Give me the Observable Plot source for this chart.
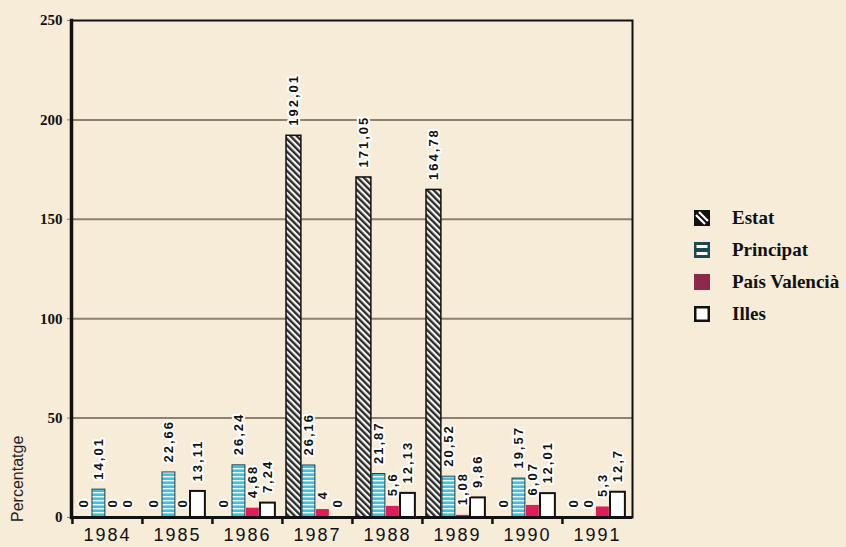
<!DOCTYPE html>
<html>
<head>
<meta charset="utf-8">
<script src="https://cdn.jsdelivr.net/npm/d3@7"></script>
<script src="https://cdn.jsdelivr.net/npm/@observablehq/plot@0.6"></script>
<style>
  html, body { margin: 0; padding: 0; background: #f6ecd8; overflow: hidden; }
  #wrap { position: relative; width: 846px; height: 547px; overflow: hidden; }
  #chart { position: absolute; left: 0; top: 0; }
  #ylabel { position: absolute; left: 10px; top: 522px; transform: rotate(-90deg); transform-origin: 0 0;
            font-family: "Liberation Sans", sans-serif; font-size: 16px; line-height: 16px; color: #222; white-space: nowrap; }
  #legend { position: absolute; left: 694px; top: 202px; font-family: "Liberation Serif", serif; font-weight: bold;
            font-size: 19px; color: #111; white-space: nowrap; }
  .row { height: 32px; display: flex; align-items: center; }
  .row svg { width: 16px; height: 16px; margin-right: 22px; flex: none; }
</style>
</head>
<body>
<div id="wrap">
  <div id="chart"></div>
  <div id="ylabel">Percentatge</div>
  <div id="legend"></div>
</div>
<script>
// ---- data ----
const years = ["1984", "1985", "1986", "1987", "1988", "1989", "1990", "1991"];
const series = ["Estat", "Principat", "País Valencià", "Illes"];
const estat        = [0, 0, 0, 192.01, 171.05, 164.78, 0, 0];
const principat    = [14.01, 22.66, 26.24, 26.16, 21.87, 20.52, 19.57, 0];
const paisValencia = [0, 0, 4.68, 4, 5.6, 1.08, 6.07, 5.3];
const illes        = [0, 13.11, 7.24, 0, 12.13, 9.86, 12.01, 12.7];
const yTicks = [0, 50, 100, 150, 200, 250];
const gridTicks = [50, 100, 150, 200];

const valuesBySeries = [estat, principat, paisValencia, illes];
const rows = years.flatMap((year, i) =>
  series.map((s, j) => ({year, series: s, value: valuesBySeries[j][i]})));

// ---- layout / style ----
const W = 846, H = 547, mL = 71, mR = 214, mT = 20, mB = 30;
const bw = (W - mL - mR) / years.length;
const styles = {
  "Estat":         {fill: "url(#hatchEstat)", stroke: "#111", strokeWidth: 1.5, l: 4,  r: 19},
  "Principat":     {fill: "url(#stripePrincipat)", stroke: "#1a3f4a", strokeWidth: 1, l: 20, r: 33},
  "País Valencià": {fill: "#dc1f5a", stroke: "none", strokeWidth: 0, l: 34, r: 47},
  "Illes":         {fill: "white", stroke: "#111", strokeWidth: 2, l: 48, r: 63}
};
const fmt = v => String(v).replace(".", ",");

const marks = [
  Plot.gridY(gridTicks, {stroke: "#8d8271", strokeOpacity: 1, strokeWidth: 2}),
  Plot.axisY({ticks: yTicks, tickSize: 4, tickPadding: 5, stroke: "#8d8271", label: null,
              fontFamily: "Liberation Serif", fontWeight: "bold", fontSize: 15, fill: "#111"}),
  Plot.axisX({tickSize: 0, tickPadding: 11, label: null, fontFamily: "Liberation Sans",
              fontSize: 18, fill: "#111"}),
  Plot.axisX({tickSize: 7, tickFormat: () => "", label: null, dx: -bw / 2, stroke: "#111", strokeWidth: 2.5})
];
for (const s of series) {
  const st = styles[s];
  const data = rows.filter(d => d.series === s);
  marks.push(Plot.barY(data, {x: "year", y: "value", fill: st.fill, stroke: st.stroke, strokeWidth: st.strokeWidth,
                              insetLeft: st.l, insetRight: bw - st.r}));
}
for (const s of series) {
  const st = styles[s];
  const data = rows.filter(d => d.series === s);
  marks.push(Plot.text(data, {x: "year", y: "value", text: d => fmt(d.value), rotate: -90, textAnchor: "start",
                              dx: (st.l + st.r) / 2 - bw / 2, dy: -10, fontFamily: "Liberation Sans",
                              fontWeight: "bold", fontSize: 13, fill: "#111",
                              stroke: "white", strokeWidth: 4, paintOrder: "stroke"}));
}
marks.push(
  Plot.frame({stroke: "#111", strokeWidth: 2}),
  Plot.frame({anchor: "left", stroke: "#111", strokeWidth: 3.5}),
  Plot.ruleY([0], {stroke: "#111", strokeWidth: 3})
);

const svg = Plot.plot({
  width: W, height: H,
  marginLeft: mL, marginRight: mR, marginTop: mT, marginBottom: mB,
  style: {background: "transparent", overflow: "visible"},
  x: {type: "band", domain: years, padding: 0},
  y: {domain: [0, 250]},
  marks
});

const defs = d3.select(svg).insert("defs", ":first-child");
const pe = defs.append("pattern").attr("id", "hatchEstat").attr("patternUnits", "userSpaceOnUse")
  .attr("width", 4.5).attr("height", 10).attr("patternTransform", "rotate(-45)");
pe.append("rect").attr("width", 4.5).attr("height", 10).attr("fill", "#f4f4f0");
pe.append("rect").attr("width", 2.3).attr("height", 10).attr("fill", "#2a2a2a");
const pp = defs.append("pattern").attr("id", "stripePrincipat").attr("patternUnits", "userSpaceOnUse")
  .attr("width", 4).attr("height", 4);
pp.append("rect").attr("width", 4).attr("height", 4).attr("fill", "#3dc2e2");
pp.append("rect").attr("width", 4).attr("height", 1.4).attr("fill", "#f0fbff");

d3.select(svg).selectAll('g[aria-label="text"] text').attr("letter-spacing", 2);
d3.select(svg).selectAll('g[aria-label="x-axis tick label"] text').attr("letter-spacing", 2);

document.getElementById("chart").appendChild(svg);

// ---- legend ----
const swatches = {
  "Estat": '<rect width="16" height="16" fill="#111"/><path d="M2,5 L11,14 M5,2 L14,11" stroke="white" stroke-width="2.2"/>',
  "Principat": '<rect width="16" height="16" fill="#1c4853"/><rect x="2.5" y="3" width="11" height="3" fill="white"/><rect x="2.5" y="10" width="11" height="3" fill="white"/>',
  "País Valencià": '<rect width="16" height="16" fill="#8b2a4b"/>',
  "Illes": '<rect x="1.25" y="1.25" width="13.5" height="13.5" fill="white" stroke="#111" stroke-width="2.5"/>'
};
const legend = document.getElementById("legend");
for (const s of series) {
  const row = document.createElement("div");
  row.className = "row";
  row.innerHTML = `<svg viewBox="0 0 16 16">${swatches[s]}</svg><span>${s}</span>`;
  legend.appendChild(row);
}
</script>
</body>
</html>
